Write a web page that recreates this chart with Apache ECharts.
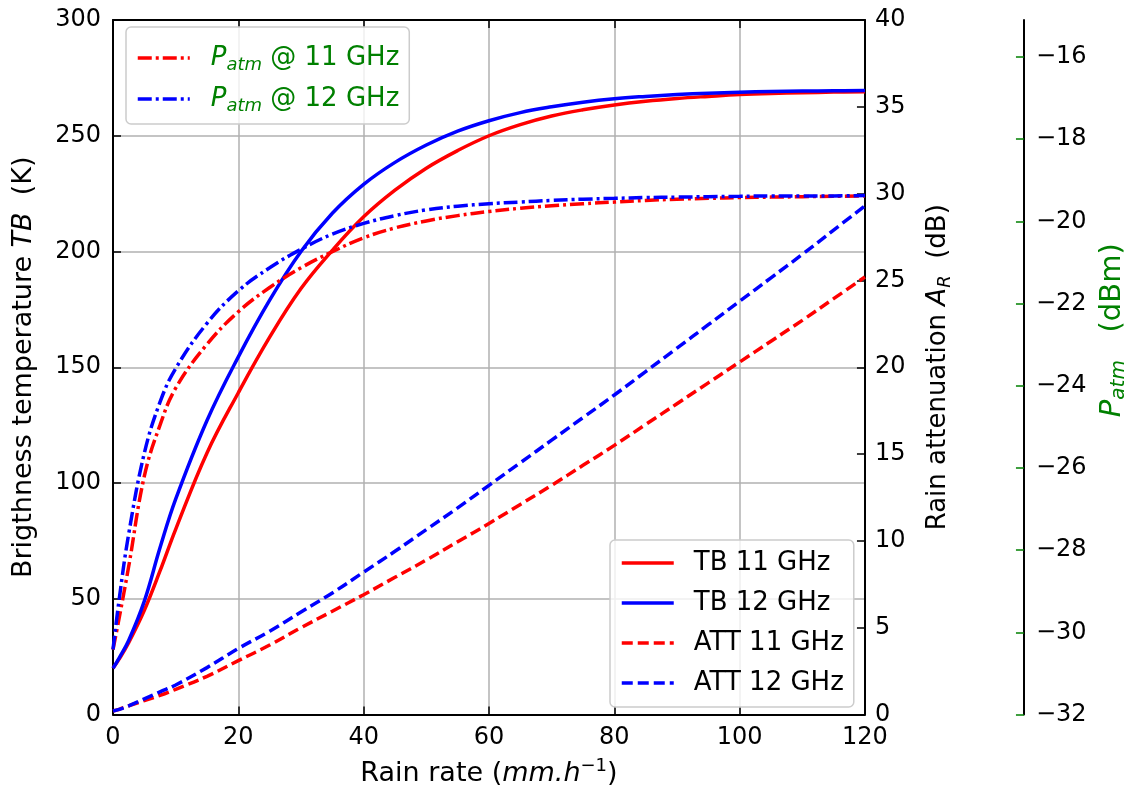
<!DOCTYPE html>
<html>
<head>
<meta charset="utf-8">
<script src="https://cdn.jsdelivr.net/npm/echarts@6/dist/echarts.min.js"></script>
<style>
html,body{margin:0;padding:0;background:#fff;width:1137px;height:792px;overflow:hidden;}
#chart{width:1137px;height:792px;display:block;}
</style>
</head>
<body>
<div id="chart"></div>
<script>
// ---- data ----
const rate   = [0, 1, 2.5, 5, 7.5, 10, 15, 20, 25, 30, 35, 40, 45, 50, 55, 60, 65, 70, 75, 80, 85, 90, 95, 100, 105, 110, 115, 120];
const tb11   = [20, 24, 31, 45, 62, 80, 113, 139, 163, 184, 200.5, 215, 226.5, 236, 243.6, 250, 254.8, 258.5, 261.2, 263.3, 264.9, 266.1, 267, 267.8, 268.3, 268.6, 268.85, 269];
const tb12   = [20, 24.5, 32, 49, 72, 93, 127, 154.5, 179, 200, 216.5, 229, 238.5, 246, 252, 256.5, 260, 262.5, 264.5, 266, 267, 267.8, 268.4, 268.8, 269.1, 269.3, 269.4, 269.5];
const att11  = [0.2, 0.3, 0.5, 0.8, 1.1, 1.45, 2.2, 3.1, 4.0, 5.0, 5.95, 6.9, 7.9, 8.9, 9.95, 11.0, 12.1, 13.2, 14.35, 15.5, 16.7, 17.9, 19.1, 20.3, 21.5, 22.7, 23.95, 25.2];
const att12  = [0.2, 0.3, 0.5, 0.9, 1.3, 1.7, 2.7, 3.8, 4.8, 5.9, 7.0, 8.2, 9.4, 10.65, 11.9, 13.2, 14.5, 15.8, 17.1, 18.4, 19.75, 21.1, 22.45, 23.8, 25.15, 26.5, 27.9, 29.3];
const patm11 = [-30.42, -29.64, -28.40, -26.20, -24.96, -24.06, -22.99, -22.20, -21.61, -21.13, -20.74, -20.40, -20.16, -19.99, -19.86, -19.76, -19.68, -19.62, -19.57, -19.53, -19.49, -19.46, -19.44, -19.42, -19.41, -19.40, -19.39, -19.38];
const patm12 = [-30.42, -29.18, -27.61, -25.64, -24.40, -23.58, -22.48, -21.69, -21.13, -20.68, -20.31, -20.05, -19.86, -19.72, -19.63, -19.57, -19.53, -19.49, -19.46, -19.44, -19.42, -19.41, -19.40, -19.39, -19.38, -19.38, -19.38, -19.37];

const xTicks    = [0, 20, 40, 60, 80, 100, 120];
const tbTicks   = [0, 50, 100, 150, 200, 250, 300];
const attTicks  = [0, 5, 10, 15, 20, 25, 30, 35, 40];
const patmTicks = [-32, -30, -28, -26, -24, -22, -20, -18, -16];

const names = {
  p11: 'Patm @ 11 GHz', p12: 'Patm @ 12 GHz',
  tb11: 'TB 11 GHz', tb12: 'TB 12 GHz', a11: 'ATT 11 GHz', a12: 'ATT 12 GHz'
};

const RED = '#ff0000', BLUE = '#0000ff', GREEN = '#008000';
const FONT = 'DejaVu Sans';
const minus = v => String(v).replace('-', '\u2212');
const pairs = (xs, ys) => xs.map((x, i) => [x, ys[i]]);

const chart = echarts.init(document.getElementById('chart'), null, {renderer: 'canvas', width: 1137, height: 792});

function lineSeries(name, data, color, yIdx, dash) {
  return {
    name, type: 'line', data, yAxisIndex: yIdx, xAxisIndex: 0,
    showSymbol: false, symbol: 'none', smooth: 0.4,
    lineStyle: {color, width: 3.5, type: dash},
    itemStyle: {color},
    emphasis: {disabled: true}
  };
}

const DASH = [11, 5];
const DASHDOT = [14, 4, 3, 4];

const legendCommon = {
  orient: 'vertical', itemWidth: 52, itemHeight: 14,
  backgroundColor: 'rgba(255,255,255,0.8)',
  borderColor: '#cccccc', borderWidth: 1.5, borderRadius: 5,
  itemStyle: {opacity: 0, borderWidth: 0},
  lineStyle: {width: 3.5}
};

const option = {
  animation: false,
  backgroundColor: '#ffffff',
  textStyle: {fontFamily: FONT},
  grid: {left: 113, right: 269, top: 20, bottom: 74, containLabel: false},
  legend: [
    Object.assign({}, legendCommon, {
      data: [names.p11, names.p12],
      left: 126, top: 27, itemGap: 12,
      padding: [18, 10, 9, 10],
      formatter: n => n === names.p11 ? '{i|P}{s|atm}{n| @ 11 GHz}' : '{i|P}{s|atm}{n| @ 12 GHz}',
      textStyle: {
        color: GREEN, fontSize: 26, fontFamily: FONT, padding: [0, 0, 0, 16],
        rich: {
          i: {fontStyle: 'italic', fontSize: 26, color: GREEN, fontFamily: FONT, lineHeight: 32},
          s: {fontStyle: 'italic', fontSize: 18, color: GREEN, fontFamily: FONT, lineHeight: 32, verticalAlign: 'bottom'},
          n: {fontSize: 26, color: GREEN, fontFamily: FONT, lineHeight: 32}
        }
      }
    }),
    Object.assign({}, legendCommon, {
      data: [names.tb11, names.tb12, names.a11, names.a12],
      left: 610, top: 540, itemGap: 10,
      padding: [8, 10, 9, 10],
      textStyle: {color: '#000', fontSize: 26, fontFamily: FONT, padding: [0, 0, 0, 15], lineHeight: 30}
    })
  ],
  xAxis: [
    {
      type: 'value', position: 'bottom', min: 0, max: 120, interval: 20,
      name: '{n|Rain rate (}{i|mm.h}{sup|\u22121}{n|)}',
      nameLocation: 'middle', nameGap: 43,
      nameTextStyle: {
        fontSize: 27, fontFamily: FONT, color: '#000',
        rich: {
          n: {fontSize: 27, fontFamily: FONT, color: '#000', lineHeight: 32},
          i: {fontSize: 27, fontFamily: FONT, fontStyle: 'italic', color: '#000', lineHeight: 32},
          sup: {fontSize: 18, fontFamily: FONT, color: '#000', lineHeight: 32, verticalAlign: 'top'}
        }
      },
      axisLine: {show: true, onZero: false, lineStyle: {color: '#000', width: 2}},
      axisTick: {show: true, inside: true, length: 8, lineStyle: {color: '#000', width: 1.5}, customValues: xTicks},
      axisLabel: {show: true, fontSize: 24, color: '#000', fontFamily: FONT, margin: 11, customValues: xTicks},
      splitLine: {show: true, lineStyle: {color: '#b0b0b0', width: 1.5}}
    },
    {
      type: 'value', position: 'top', min: 0, max: 120, interval: 20,
      axisLine: {show: true, onZero: false, lineStyle: {color: '#000', width: 2}},
      axisTick: {show: true, inside: true, length: 8, lineStyle: {color: '#000', width: 1.5}},
      axisLabel: {show: false},
      splitLine: {show: false}
    }
  ],
  yAxis: [
    {
      type: 'value', position: 'left', min: 0, max: 300, interval: 50,
      name: 'Brigthness temperature {i|TB}  (K)',
      nameLocation: 'middle', nameGap: 76, nameRotate: 90,
      nameTextStyle: {
        fontSize: 27, fontFamily: FONT, color: '#000',
        rich: {i: {fontSize: 27, fontStyle: 'italic', fontFamily: FONT, color: '#000'}}
      },
      axisLine: {show: true, onZero: false, lineStyle: {color: '#000', width: 2}},
      axisTick: {show: true, inside: true, length: 8, lineStyle: {color: '#000', width: 1.5}, customValues: tbTicks},
      axisLabel: {fontSize: 24, color: '#000', fontFamily: FONT, margin: 12, customValues: tbTicks},
      splitLine: {show: true, lineStyle: {color: '#b0b0b0', width: 1.5}}
    },
    {
      type: 'value', position: 'right', min: 0, max: 40, interval: 5,
      name: 'Rain attenuation {i|A}{sub|R}  (dB)',
      nameLocation: 'middle', nameGap: 57, nameRotate: 90,
      nameTextStyle: {
        fontSize: 26, fontFamily: FONT, color: '#000', verticalAlign: 'top',
        rich: {
          i: {fontSize: 26, fontStyle: 'italic', fontFamily: FONT, color: '#000', lineHeight: 32},
          sub: {fontSize: 18, fontStyle: 'italic', fontFamily: FONT, color: '#000', lineHeight: 32, verticalAlign: 'bottom'}
        }
      },
      axisLine: {show: true, onZero: false, lineStyle: {color: '#000', width: 2}},
      axisTick: {show: true, inside: true, length: 8, lineStyle: {color: '#000', width: 1.5}, customValues: attTicks},
      axisLabel: {fontSize: 24, color: '#000', fontFamily: FONT, margin: 10, customValues: attTicks},
      splitLine: {show: false}
    },
    {
      type: 'value', position: 'right', offset: 159, min: -32, max: -15.1, interval: 2,
      name: '{i|P}{sub|atm}   (dBm)',
      nameLocation: 'middle', nameGap: 68, nameRotate: 90,
      nameTextStyle: {
        fontSize: 29, fontFamily: FONT, color: GREEN, verticalAlign: 'top',
        padding: [0, 0, 0, 74],
        rich: {
          i: {fontSize: 29, fontStyle: 'italic', fontFamily: FONT, color: GREEN, lineHeight: 34},
          sub: {fontSize: 20, fontStyle: 'italic', fontFamily: FONT, color: GREEN, lineHeight: 34, verticalAlign: 'bottom'}
        }
      },
      axisLine: {show: true, onZero: false, lineStyle: {color: '#000', width: 2}},
      axisTick: {show: true, inside: true, length: 8, lineStyle: {color: GREEN, width: 1.5}, customValues: patmTicks},
      axisLabel: {fontSize: 24, color: '#000', fontFamily: FONT, margin: 12, customValues: patmTicks, formatter: minus},
      splitLine: {show: false}
    }
  ],
  series: [
    lineSeries(names.tb11, pairs(rate, tb11), RED, 0, 'solid'),
    lineSeries(names.tb12, pairs(rate, tb12), BLUE, 0, 'solid'),
    lineSeries(names.a11, pairs(rate, att11), RED, 1, DASH),
    lineSeries(names.a12, pairs(rate, att12), BLUE, 1, DASH),
    lineSeries(names.p11, pairs(rate, patm11), RED, 2, DASHDOT),
    lineSeries(names.p12, pairs(rate, patm12), BLUE, 2, DASHDOT)
  ]
};
chart.setOption(option);
</script>
</body>
</html>
